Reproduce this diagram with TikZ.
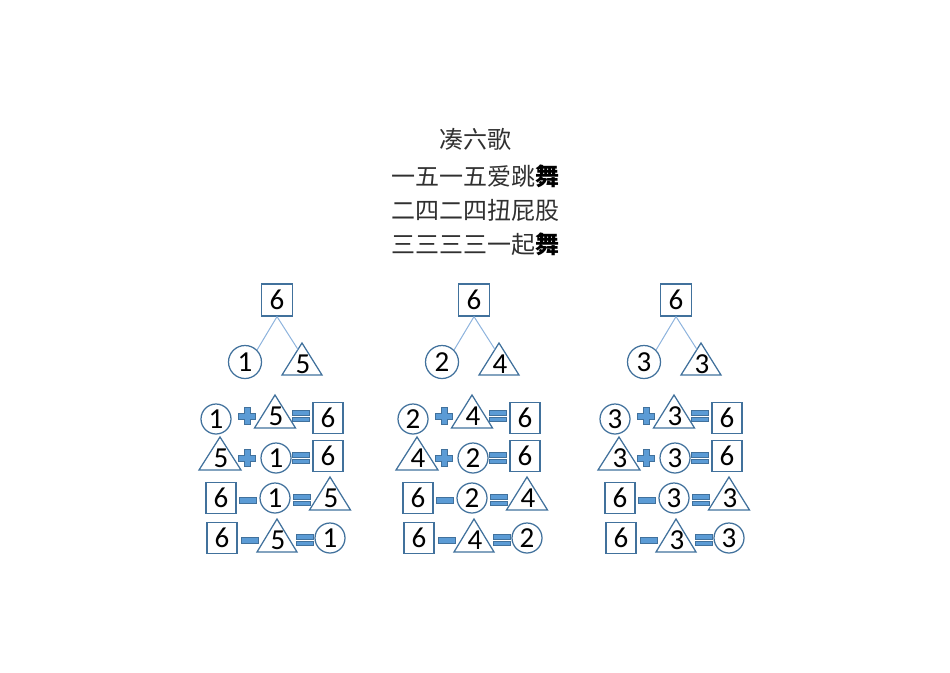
\documentclass[tikz,border=0pt]{standalone}
\usepackage{fontspec}
\setmainfont{Carlito}
\newfontfamily\cjk{Noto Sans CJK SC}
\definecolor{shpc}{HTML}{41719C}
\definecolor{symc}{HTML}{5B9BD5}
\definecolor{treec}{HTML}{8DB3DD}
\definecolor{titc}{HTML}{303030}
\tikzset{
  shp/.style={draw=shpc, line width=1.25pt, line join=miter},
  numf/.style={font=\fontsize{29}{29}\selectfont, text=black},
  circ/.style={circle, shp, minimum size=30pt, inner sep=0pt, numf},
  bx/.style={rectangle, shp, minimum width=30pt, minimum height=31pt, inner sep=0pt, numf},
  num/.style={inner sep=0pt, numf},
  sym/.style={fill=symc, draw=shpc, line width=0.6pt},
  tl/.style={draw=treec, line width=1pt},
  titl/.style={font=\cjk\fontsize{24}{24}\selectfont, text=titc, inner sep=0pt}
}
\newcommand\mytri[6]{% name, apex x, apex y, digit, halfwidth, height
  \coordinate (#1) at (#2,#3);
  \draw[shp] (#1) -- ++(-#5,#6) -- ++(2*#5,0) -- cycle;
  \node[num] (#1n) at (#2+1,#3+21) {#4};}
\newcommand\myplus[2]{%
  \path[sym,shift={(#1,#2)}] (-2.9,-8.5) -- (2.9,-8.5) -- (2.9,-2.9) -- (8.5,-2.9) -- (8.5,2.9) -- (2.9,2.9) -- (2.9,8.5) -- (-2.9,8.5) -- (-2.9,2.9) -- (-8.5,2.9) -- (-8.5,-2.9) -- (-2.9,-2.9) -- cycle;}
\newcommand\myeq[2]{%
  \path[sym,shift={(#1,#2)}] (-8.5,-5.3) rectangle (8.5,-1);
  \path[sym,shift={(#1,#2)}] (-8.5,1) rectangle (8.5,5.3);}
\newcommand\myminus[2]{%
  \path[sym,shift={(#1,#2)}] (-8.5,-2.9) rectangle (8.5,2.9);}
\newcommand\mygroup[4]{% prefix, dx, circle digit, triangle digit
\begin{scope}[xshift=#2pt]
  % tree
  \node[bx, minimum width=31pt, minimum height=32pt] (#1top) at (277,300) {6};
  \node[circ, minimum size=33pt] (#1c) at (245,362) {#3};
  \mytri{#1t}{302}{343}{#4}{20}{32}
  \coordinate (#1te) at (298,349.5);
  \draw[tl] (#1top.south) -- (#1c.north east);
  \draw[tl] (#1top.south) -- (#1te);
  % row 1
  \node[circ] (#1a1) at (216,419) {#3};
  \myplus{247}{416}
  \mytri{#1b1}{275}{395}{#4}{20.5}{33}
  \myeq{301}{416}
  \node[bx] (#1c1) at (328,418) {6};
  % row 2
  \mytri{#1a2}{220}{437}{#4}{21}{33}
  \myplus{247}{458}
  \node[circ] (#1b2) at (276,458) {#3};
  \myeq{301}{458}
  \node[bx] (#1c2) at (328,456) {6};
  % row 3
  \node[bx] (#1a3) at (221,498) {6};
  \myminus{248}{500}
  \node[circ] (#1b3) at (275,498) {#3};
  \myeq{302}{500}
  \mytri{#1c3}{330}{477}{#4}{20.5}{33}
  % row 4
  \node[bx] (#1a4) at (222,538) {6};
  \myminus{250}{540}
  \mytri{#1b4}{277}{519}{#4}{20}{33}
  \myeq{305}{540}
  \node[circ] (#1c4) at (330,538) {#3};
\end{scope}}
\begin{document}
\begin{tikzpicture}[x=1pt,y=-1pt]
\useasboundingbox (0,0) rectangle (950,672);
\node[titl] (t1) at (475,139) {凑六歌};
\node[titl] (t2) at (475,176) {一五一五爱跳\textbf{\color{black}舞}};
\node[titl] (t3) at (475,210) {二四二四扭屁股};
\node[titl] (t4) at (475,244) {三三三三一起\textbf{\color{black}舞}};
\mygroup{g}{0}{1}{5}
\mygroup{h}{197}{2}{4}
\mygroup{k}{399}{3}{3}
\end{tikzpicture}
\end{document}
